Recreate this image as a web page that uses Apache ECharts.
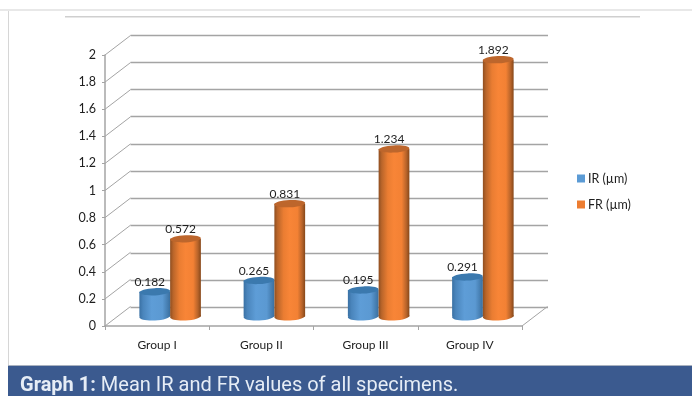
<!DOCTYPE html>
<html>
<head>
<meta charset="utf-8">
<style>html,body{margin:0;padding:0;background:#fff;}#chart{width:692px;height:396px;}</style>
<script src="https://cdn.jsdelivr.net/npm/echarts@6/dist/echarts.min.js"></script>
</head>
<body>
<div id="chart"></div>
<script>
// Mean IR and FR per specimen group
const categories = ['Group I', 'Group II', 'Group III', 'Group IV'];
const irValues = [0.182, 0.265, 0.195, 0.291];
const frValues = [0.572, 0.831, 1.234, 1.892];
const tickValues = [0, 0.2, 0.4, 0.6, 0.8, 1, 1.2, 1.4, 1.6, 1.8, 2];

const GREY = '#a4a4a4';
const TEXT = '#1e1e1e';
const FONT = 'Lato, "Noto Sans", sans-serif';
const DEPTH = [25.5, -19.5];   // offset from the front plane to the back wall
const BAR_RATIO = 0.295;       // cylinder width as a share of the category band

function sideGradient(stops) {
  return {
    type: 'linear', x: 0, y: 0, x2: 1, y2: 0,
    colorStops: stops.map(([offset, color]) => ({ offset, color }))
  };
}

const palettes = {
  ir: {
    body: sideGradient([[0, '#3a71a4'], [0.12, '#4a85bc'], [0.4, '#5e9dd7'], [0.75, '#5b99d2'], [1, '#3a6f9f']]),
    top: '#3b79ae'
  },
  fr: {
    body: sideGradient([[0, '#8f4e20'], [0.1, '#b9652a'], [0.3, '#ea7d32'], [0.5, '#f88537'], [0.75, '#f38134'], [0.9, '#b8642a'], [1, '#864719']]),
    top: '#bd662c'
  }
};

// One cylinder standing on the mid-depth plane, with its value written above it
function cylinder(palette, side) {
  return function (params, api) {
    const band = api.size([1, 0])[0];
    const width = band * BAR_RATIO;
    const top = api.coord([api.value(0), api.value(1)]);
    const base = api.coord([api.value(0), 0]);
    const cx = top[0] + side * width / 2;
    const rx = width / 2;
    const tilt = 0.05;
    return {
      type: 'group',
      children: [
        {
          type: 'ellipse',
          shape: { cx, cy: base[1], rx, ry: 4 },
          rotation: tilt, originX: cx, originY: base[1],
          style: { fill: palette.body }
        },
        {
          type: 'rect',
          shape: { x: cx - rx, y: top[1], width, height: base[1] - top[1] },
          style: { fill: palette.body }
        },
        {
          type: 'ellipse',
          shape: { cx, cy: top[1], rx, ry: 3.6 },
          rotation: tilt, originX: cx, originY: top[1],
          style: { fill: palette.top }
        },
        {
          type: 'text',
          style: {
            x: cx - 5, y: top[1] - 9.5,
            text: api.value(1).toFixed(3),
            align: 'center', verticalAlign: 'middle',
            fill: TEXT, font: '12px ' + FONT
          }
        }
      ]
    };
  };
}

// Receding edges that join the front axis to the back wall
function depthEdges(params, api) {
  const p = api.coord([0, api.value(0)]);
  const x = params.coordSys.x;
  const right = x + params.coordSys.width;
  const edge = (x0, y0) => ({
    type: 'line',
    shape: { x1: x0, y1: y0, x2: x0 + DEPTH[0], y2: y0 + DEPTH[1] },
    style: { stroke: GREY, lineWidth: 1 }
  });
  const children = [edge(x, p[1])];
  if (api.value(0) === 0) children.push(edge(right, p[1]));
  return { type: 'group', children };
}

const hiddenCategory = { type: 'category', data: categories, show: false };
const hiddenValue = { type: 'value', min: 0, max: 2, interval: 0.2, show: false };

const option = {
  backgroundColor: '#fff',
  animation: false,
  grid: [
    { left: 105, right: 170, top: 55, bottom: 70 },            // front plane
    { left: 130.5, right: 144, top: 35, bottom: 88.7 },        // back wall
    { left: 118, right: 157, top: 45, bottom: 79.5 }           // plane the cylinders stand on
  ],
  xAxis: [
    {
      type: 'category', gridIndex: 0, data: categories,
      axisLine: { lineStyle: { color: GREY, width: 1.5 } },
      axisTick: { show: true, alignWithLabel: false, length: 4, lineStyle: { color: GREY } },
      axisLabel: { color: TEXT, fontFamily: FONT, fontSize: 12, margin: 13 }
    },
    { ...hiddenCategory, gridIndex: 1 },
    { ...hiddenCategory, gridIndex: 2 }
  ],
  yAxis: [
    {
      type: 'value', gridIndex: 0, min: 0, max: 2, interval: 0.2,
      axisLine: { show: true, lineStyle: { color: GREY, width: 1.5 } },
      axisTick: { show: true, length: 3, lineStyle: { color: GREY } },
      splitLine: { show: false },
      axisLabel: { color: TEXT, fontFamily: FONT, fontSize: 12.5, margin: 9, padding: [2, 0, 0, 0], formatter: v => String(+v.toFixed(1)) }
    },
    {
      type: 'value', gridIndex: 1, min: 0, max: 2, interval: 0.2,
      axisLine: { show: false }, axisTick: { show: false }, axisLabel: { show: false },
      splitLine: { show: true, lineStyle: { color: GREY, width: 1.3, type: 'solid' } }
    },
    { ...hiddenValue, gridIndex: 2 }
  ],
  legend: {
    data: ['IR (µm)', 'FR (µm)'],
    orient: 'vertical', left: 572, top: 167,
    itemWidth: 8, itemHeight: 8, itemGap: 13,
    icon: 'rect',
    textStyle: { color: TEXT, fontFamily: FONT, fontSize: 12.5, padding: [0, 0, 0, -2] }
  },
  series: [
    {
      type: 'custom', name: 'depth', xAxisIndex: 0, yAxisIndex: 0, silent: true, z: 1,
      clip: false,
      data: tickValues.map(v => [v]),
      encode: { y: 0 },
      renderItem: depthEdges
    },
    {
      type: 'custom', name: 'IR (µm)', xAxisIndex: 2, yAxisIndex: 2, z: 3,
      itemStyle: { color: '#5b9bd5' },
      data: irValues.map((v, i) => [i, v]),
      encode: { x: 0, y: 1 },
      clip: false,
      renderItem: cylinder(palettes.ir, -1)
    },
    {
      type: 'custom', name: 'FR (µm)', xAxisIndex: 2, yAxisIndex: 2, z: 4,
      itemStyle: { color: '#ed7d31' },
      data: frValues.map((v, i) => [i, v]),
      encode: { x: 0, y: 1 },
      clip: false,
      renderItem: cylinder(palettes.fr, 1)
    }
  ],
  graphic: [
    // page rules and caption band around the chart
    { type: 'rect', silent: true, shape: { x: 0, y: 9, width: 692, height: 2 }, style: { fill: '#e8e8e8' } },
    { type: 'rect', silent: true, shape: { x: 65, y: 16, width: 575, height: 1.6 }, style: { fill: '#cfcfcf' } },
    { type: 'rect', silent: true, shape: { x: 8, y: 11, width: 1, height: 355 }, style: { fill: '#d6d6d6' } },
    { type: 'rect', silent: true, shape: { x: 8, y: 366, width: 684, height: 30 }, style: { fill: '#3b5a8f' } },
    { type: 'rect', silent: true, shape: { x: 8, y: 365, width: 684, height: 1 }, style: { fill: '#a9b2c0' } },
    {
      type: 'text', silent: true, left: 20, top: 376,
      style: {
        text: '{b|Graph 1:} Mean IR and FR values of all specimens.',
        fill: '#e6edf6', font: '20px Roboto, sans-serif',
        rich: {
          b: { fill: '#e6edf6', font: 'bold 20px Roboto, sans-serif' }
        }
      }
    }
  ]
};

echarts.init(document.getElementById('chart'), null, { renderer: 'canvas' }).setOption(option);
</script>
</body>
</html>
